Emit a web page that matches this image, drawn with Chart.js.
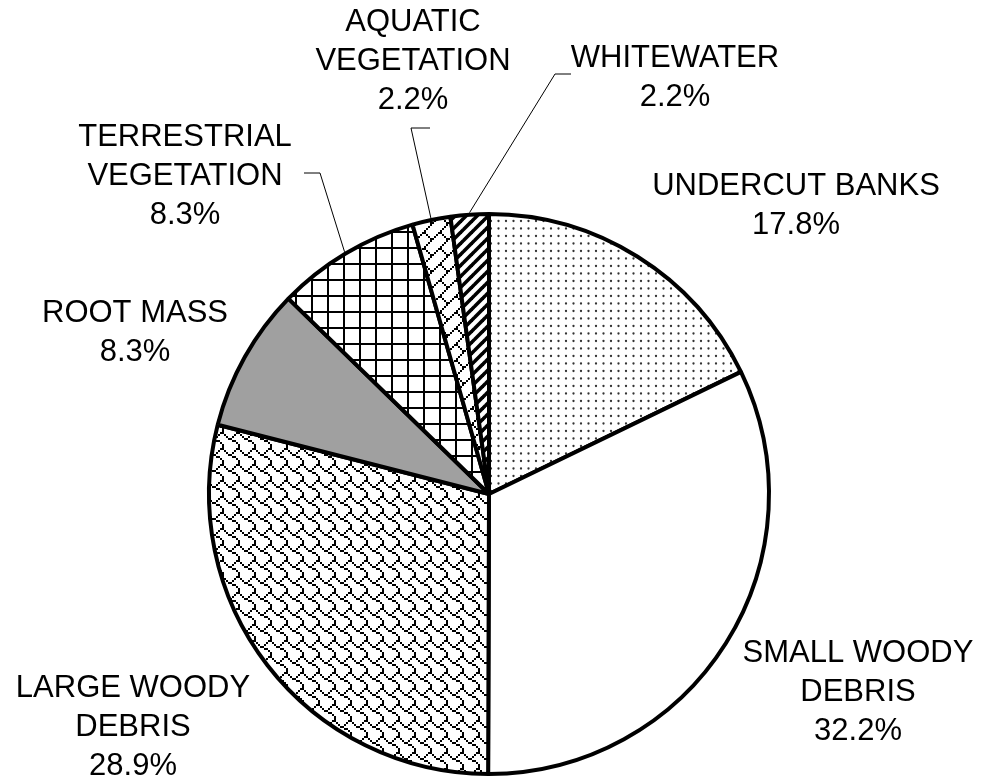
<!DOCTYPE html>
<html>
<head>
<meta charset="utf-8">
<script src="https://cdn.jsdelivr.net/npm/chart.js@4/dist/chart.umd.min.js"></script>
<style>
  html, body { margin: 0; padding: 0; background: #fff; }
  #wrap { width: 983px; height: 780px; }
</style>
</head>
<body>
<div id="wrap"><canvas id="pie" width="983" height="780"></canvas></div>
<script>
// Habitat cover types, clockwise from 12 o'clock
const categories = [
  ['UNDERCUT BANKS'],
  ['SMALL WOODY', 'DEBRIS'],
  ['LARGE WOODY', 'DEBRIS'],
  ['ROOT MASS'],
  ['TERRESTRIAL', 'VEGETATION'],
  ['AQUATIC', 'VEGETATION'],
  ['WHITEWATER']
];
const percentages = [17.8, 32.2, 28.9, 8.3, 8.3, 2.2, 2.2];

// Label text placement: centre x and first-line baseline y
const labelAnchors = [
  [796, 195],
  [858, 662],
  [133, 697],
  [135, 322],
  [185, 146],
  [413, 31],
  [675, 67]
];
const lineStep = 39;

// Leader lines: bend points after the slice edge (index -> points)
const leaderBends = {
  4: [[320, 173], [304, 173]],
  5: [[411, 128], [430, 128]],
  6: [[555, 74], [571, 74]]
};

// 8x8 hatch bitmaps (MSB = leftmost pixel)
const SHINGLE = [0x03, 0x84, 0x48, 0x30, 0x0c, 0x02, 0x01, 0x01];
const DIAGONAL_BRICK = [0x01, 0x02, 0x04, 0x08, 0x18, 0x24, 0x42, 0x81];

function bitmapPattern(ctx, rows, scale) {
  const c = document.createElement('canvas');
  c.width = 8 * scale; c.height = 8 * scale;
  const g = c.getContext('2d');
  g.fillStyle = '#fff'; g.fillRect(0, 0, c.width, c.height);
  g.fillStyle = '#000';
  rows.forEach((bits, y) => {
    for (let x = 0; x < 8; x++) {
      if (bits & (0x80 >> x)) g.fillRect(x * scale, y * scale, scale, scale);
    }
  });
  return ctx.createPattern(c, 'repeat');
}

function dotPattern(ctx) {
  const c = document.createElement('canvas');
  c.width = 15; c.height = 15;
  const g = c.getContext('2d');
  g.fillStyle = '#fff'; g.fillRect(0, 0, 15, 15);
  g.fillStyle = '#333';
  for (let i = 0; i < 2; i++) for (let j = 0; j < 2; j++) {
    g.beginPath();
    g.arc(3.5 + i * 7.5, 3.5 + j * 7.5, 1.15, 0, Math.PI * 2);
    g.fill();
  }
  return ctx.createPattern(c, 'repeat');
}

function gridPattern(ctx) {
  const c = document.createElement('canvas');
  c.width = 16; c.height = 16;
  const g = c.getContext('2d');
  g.fillStyle = '#fff'; g.fillRect(0, 0, 16, 16);
  g.fillStyle = '#000';
  g.fillRect(7, 0, 2, 16);
  g.fillRect(0, 7, 16, 2);
  return ctx.createPattern(c, 'repeat');
}

function stripePattern(ctx) {
  const s = 11;
  const c = document.createElement('canvas');
  c.width = s; c.height = s;
  const g = c.getContext('2d');
  g.fillStyle = '#fff'; g.fillRect(0, 0, s, s);
  g.strokeStyle = '#000'; g.lineWidth = 3.6;
  [-s, 0, s].forEach(o => {
    g.beginPath();
    g.moveTo(o - 1, s + 1);
    g.lineTo(o + s + 1, -1);
    g.stroke();
  });
  return ctx.createPattern(c, 'repeat');
}

const canvas = document.getElementById('pie');
const ctx = canvas.getContext('2d');

const fills = [
  dotPattern(ctx),
  '#ffffff',
  bitmapPattern(ctx, SHINGLE, 2),
  '#a0a0a0',
  gridPattern(ctx),
  bitmapPattern(ctx, DIAGONAL_BRICK, 2),
  stripePattern(ctx)
];

const sliceLabels = {
  id: 'sliceLabels',
  afterDraw(chart) {
    const c = chart.ctx;
    const arcs = chart.getDatasetMeta(0).data;
    c.save();
    // leader lines
    c.strokeStyle = '#000';
    c.lineWidth = 1;
    Object.keys(leaderBends).forEach(k => {
      const a = arcs[k];
      const p = a.getProps(['x', 'y', 'startAngle', 'endAngle', 'outerRadius'], true);
      const mid = (p.startAngle + p.endAngle) / 2;
      const r = p.outerRadius + 2;
      c.beginPath();
      c.moveTo(p.x + Math.cos(mid) * r, p.y + Math.sin(mid) * r);
      leaderBends[k].forEach(([x, y]) => c.lineTo(x, y));
      c.stroke();
    });
    // text
    c.fillStyle = '#000';
    c.font = '31px "Liberation Sans", Arial, sans-serif';
    c.textAlign = 'center';
    c.textBaseline = 'alphabetic';
    categories.forEach((name, i) => {
      const [x, y] = labelAnchors[i];
      const lines = name.concat(percentages[i].toFixed(1) + '%');
      lines.forEach((t, n) => c.fillText(t, x, y + n * lineStep));
    });
    c.restore();
  }
};

new Chart(ctx, {
  type: 'pie',
  data: {
    labels: categories,
    datasets: [{
      data: percentages,
      backgroundColor: fills,
      borderColor: '#000',
      borderWidth: 4,
      borderJoinStyle: 'bevel'
    }]
  },
  options: {
    responsive: false,
    animation: false,
    radius: 280,
    layout: { padding: { left: 100, right: 105, top: 210, bottom: 2 } },
    plugins: {
      legend: { display: false },
      tooltip: { enabled: false }
    }
  },
  plugins: [sliceLabels]
});
</script>
</body>
</html>
